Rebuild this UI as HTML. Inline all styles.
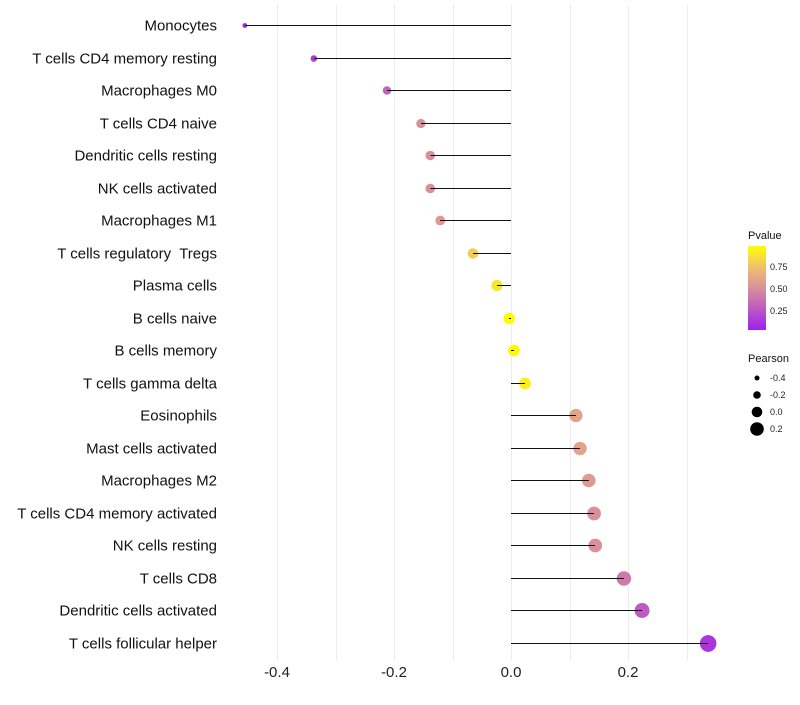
<!DOCTYPE html>
<html><head><meta charset="utf-8"><style>
body{margin:0;background:#fff;font-family:"Liberation Sans",sans-serif}
text{white-space:pre}
</style></head><body>
<svg id="chart" width="800" height="700" xmlns="http://www.w3.org/2000/svg" font-family="Liberation Sans, sans-serif"></svg>
<script>
const categories=["Monocytes","T cells CD4 memory resting","Macrophages M0","T cells CD4 naive","Dendritic cells resting","NK cells activated","Macrophages M1","T cells regulatory  Tregs","Plasma cells","B cells naive","B cells memory","T cells gamma delta","Eosinophils","Mast cells activated","Macrophages M2","T cells CD4 memory activated","NK cells resting","T cells CD8","Dendritic cells activated","T cells follicular helper"];
const pearson=[-0.455,-0.337,-0.212,-0.154,-0.138,-0.138,-0.121,-0.065,-0.024,-0.003,0.005,0.024,0.111,0.118,0.133,0.142,0.144,0.193,0.224,0.337];
const pvalue=[0.03,0.1,0.3,0.5,0.5,0.5,0.55,0.8,0.9,0.99,0.98,0.93,0.6,0.6,0.55,0.5,0.5,0.4,0.25,0.1];
const xTicks=[-0.4,-0.2,0.0,0.2];
const xTickLabels=["-0.4","-0.2","0.0","0.2"];
const pLegend=[0.25,0.5,0.75];
const sizeLegend=[-0.4,-0.2,0.0,0.2];

const svg=document.getElementById('chart');
const NS="http://www.w3.org/2000/svg";
const x=v=>511+v*585;
const y=i=>Math.round(25+i*32.5)+0.5;
const r=v=>Math.max(2,5.8+7.5*v);
function mk(t,a,p){const e=document.createElementNS(NS,t);for(const k in a)e.setAttribute(k,a[k]);(p||svg).appendChild(e);return e;}
const stops=[[0,[160,32,240]],[0.5,[217,144,154]],[0.75,[240,192,112]],[1,[255,255,0]]];
function col(p){for(let i=1;i<stops.length;i++){if(p<=stops[i][0]){const a=stops[i-1],b=stops[i],t=(p-a[0])/(b[0]-a[0]);const c=a[1].map((v,k)=>Math.round(v+(b[1][k]-v)*t));return `rgb(${c})`;}}return 'rgb(255,255,0)';}
for(let v=-0.4;v<=0.31;v+=0.1){const g=mk('line',{x1:Math.round(x(v))+0.5,x2:Math.round(x(v))+0.5,y1:5,y2:660,stroke:'#ececec','stroke-width':1});

}
xTicks.forEach((v,i)=>{const t=mk('text',{x:x(v),y:677,'font-size':15,'text-anchor':'middle',fill:'#222'});t.textContent=xTickLabels[i];

});
categories.forEach((c,i)=>{
const t=mk('text',{x:217,y:y(i)+5,'font-size':15,'text-anchor':'end',fill:'#111','xml:space':'preserve'});t.textContent=c;


const d=mk('circle',{cx:x(pearson[i]),cy:y(i),r:r(pearson[i]),fill:col(pvalue[i])});


const l=mk('line',{x1:x(0),x2:x(pearson[i]),y1:y(i),y2:y(i),stroke:'#111','stroke-width':1,'shape-rendering':'crispEdges'});


});
const lt=mk('text',{x:748,y:239,'font-size':11,fill:'#111'});lt.textContent='Pvalue';


const defs=mk('defs',{});const lg=mk('linearGradient',{id:'pg',x1:0,y1:1,x2:0,y2:0},defs);
for(let k=0;k<=10;k++)mk('stop',{offset:k/10,'stop-color':col(k/10)},lg);
const bar=mk('rect',{x:748,y:246,width:18,height:84,fill:'url(#pg)'});


const py=p=>333-p*88;
pLegend.forEach(p=>{const t=mk('text',{x:770,y:py(p)+3,'font-size':9,fill:'#222'});t.textContent=p.toFixed(2);

});
const st=mk('text',{x:748,y:362,'font-size':11,fill:'#111'});st.textContent='Pearson';


sizeLegend.forEach((v,i)=>{const cy=378+i*17;
const c=mk('circle',{cx:757,cy:cy,r:Math.max(2.5,r(v)-0.5),fill:'#000'});


const t=mk('text',{x:770,y:cy+3,'font-size':9,fill:'#222'});t.textContent=v.toFixed(1);

});
</script>
</body></html>
